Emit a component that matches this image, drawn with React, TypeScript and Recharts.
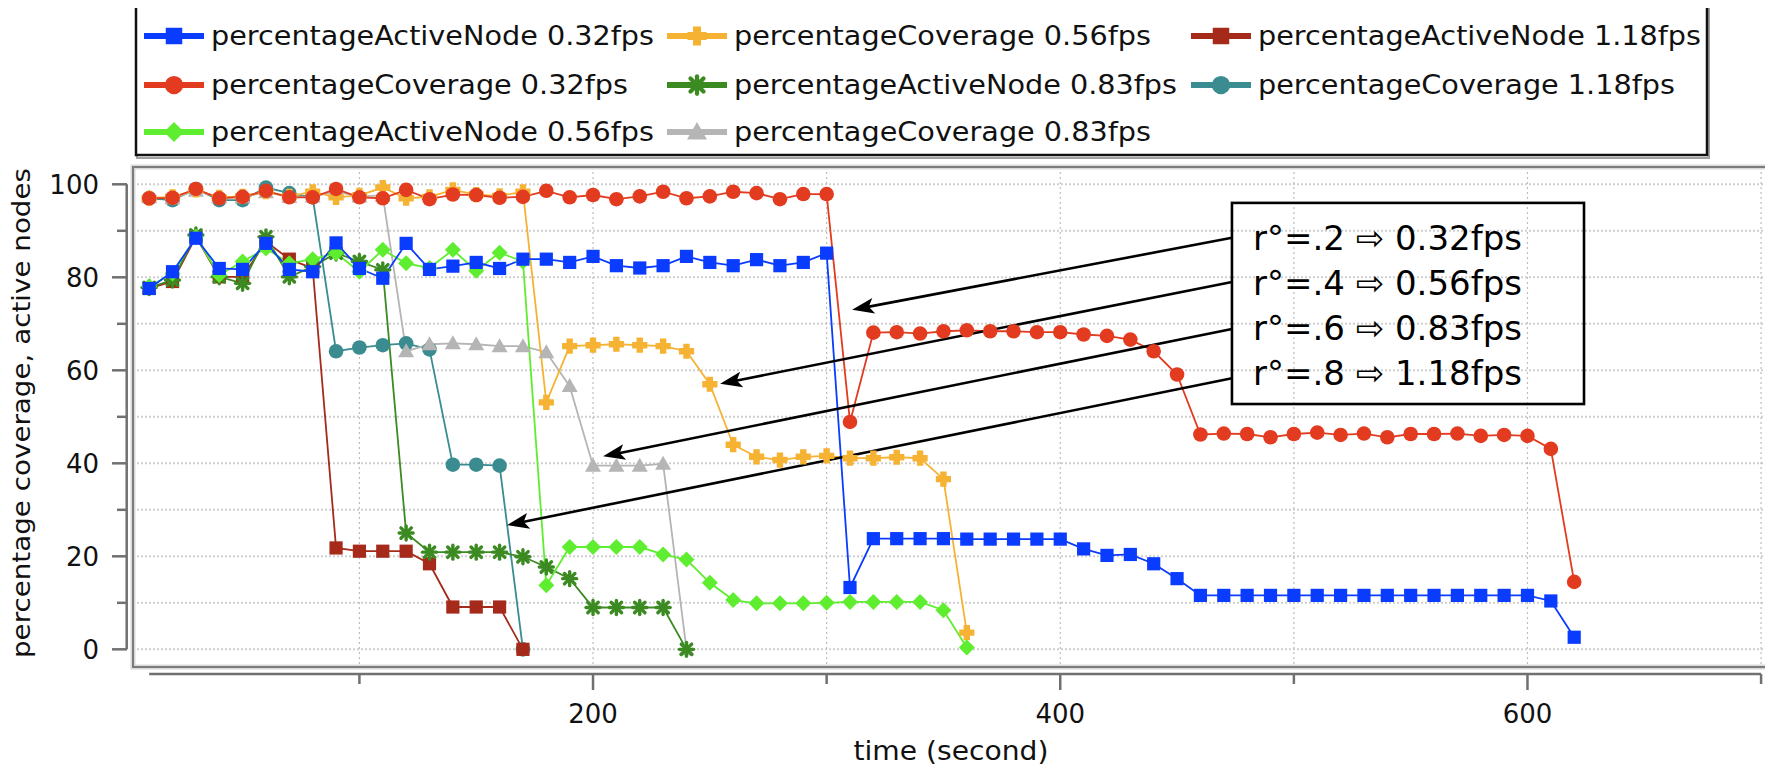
import React from 'react';
import { LineChart, Line, XAxis, YAxis, CartesianGrid, ReferenceLine, ReferenceArea } from 'recharts';

// sample times (seconds)
const times = [
  10, 20, 30, 40, 50, 60, 70, 80, 90, 100, 110, 120, 130, 140, 150, 160, 170, 180, 190, 200,
  210, 220, 230, 240, 250, 260, 270, 280, 290, 300, 310, 320, 330, 340, 350, 360, 370, 380, 390, 400,
  410, 420, 430, 440, 450, 460, 470, 480, 490, 500, 510, 520, 530, 540, 550, 560, 570, 580, 590, 600,
  610, 620,
];

const active032 = [
  77.6, 81.2, 88.4, 81.9, 81.7, 87.3, 81.7, 81.2, 87.4, 81.9, 79.8, 87.3, 81.7, 82.4, 83.2, 81.9, 83.9, 83.9, 83.2, 84.5,
  82.5, 82.0, 82.5, 84.5, 83.2, 82.5, 83.8, 82.5, 83.2, 85.2, 13.3, 23.8, 23.8, 23.8, 23.8, 23.7, 23.7, 23.7, 23.7, 23.7,
  21.6, 20.2, 20.4, 18.4, 15.2, 11.6, 11.6, 11.6, 11.6, 11.6, 11.6, 11.6, 11.6, 11.6, 11.6, 11.6, 11.6, 11.6, 11.6, 11.6,
  10.4, 2.6,
];
const coverage032 = [
  97.0, 97.1, 99.0, 97.0, 97.3, 98.6, 97.2, 97.2, 99.0, 97.2, 97.0, 98.8, 96.8, 97.8, 97.7, 97.1, 97.3, 98.6, 97.2, 97.7,
  96.8, 97.4, 98.4, 97.0, 97.4, 98.4, 98.1, 96.8, 97.9, 97.9, 48.9, 68.1, 68.2, 67.9, 68.4, 68.6, 68.4, 68.4, 68.2, 68.2,
  67.7, 67.4, 66.6, 64.1, 59.1, 46.2, 46.4, 46.3, 45.6, 46.3, 46.6, 46.1, 46.4, 45.6, 46.3, 46.3, 46.4, 45.9, 46.1, 45.9,
  43.1, 14.5,
];
const active056 = [
  78.0, 80.8, 88.7, 80.5, 83.4, 86.2, 83.0, 83.9, 85.2, 81.2, 85.9, 83.0, 82.0, 85.9, 81.4, 85.3, 83.4, 13.8, 22.0, 22.0,
  22.0, 22.0, 20.4, 19.3, 14.3, 10.6, 9.9, 9.9, 9.9, 10.0, 10.2, 10.2, 10.2, 10.2, 8.4, 0.4,
];
const coverage056 = [
  97.0, 97.3, 98.8, 97.2, 97.4, 98.4, 97.4, 98.4, 97.2, 97.6, 99.3, 97.0, 97.3, 98.8, 97.8, 97.5, 98.4, 53.1, 65.2, 65.4,
  65.6, 65.4, 65.2, 64.1, 57.0, 44.0, 41.4, 40.7, 41.4, 41.6, 41.1, 41.1, 41.3, 41.1, 36.6, 3.6,
];
const active083 = [
  77.8, 79.4, 89.1, 80.1, 78.7, 88.7, 80.1, 82.3, 85.2, 83.4, 81.6, 25.0, 20.9, 20.9, 20.9, 20.9, 19.9, 17.7, 15.2, 9.0,
  9.0, 9.0, 9.0, 0,
];
const coverage083 = [
  97.2, 97.0, 98.6, 97.2, 97.2, 98.3, 97.3, 97.4, 98.4, 97.4, 97.6, 64.1, 65.6, 65.8, 65.6, 65.2, 65.2, 63.9, 56.6, 39.5,
  39.5, 39.5, 39.9, 0,
];
const active118 = [
  77.6, 79.1, 88.7, 80.1, 80.1, 87.7, 83.9, 81.9, 21.8, 21.1, 21.1, 21.1, 18.4, 9.1, 9.1, 9.1, 0,
];
const coverage118 = [
  97.0, 96.6, 99.0, 96.6, 96.6, 99.3, 98.1, 97.2, 64.1, 64.9, 65.4, 65.8, 64.5, 39.7, 39.7, 39.5, 0,
];

const xTicks = [100, 200, 300, 400, 500, 600, 700];
const xLabels = [200, 400, 600];
const yTicks = [0, 10, 20, 30, 40, 50, 60, 70, 80, 90, 100];
const yLabels = [0, 20, 40, 60, 80, 100];

const annotationLines = ['r°=.2 ⇨ 0.32fps', 'r°=.4 ⇨ 0.56fps', 'r°=.6 ⇨ 0.83fps', 'r°=.8 ⇨ 1.18fps'];
// arrows in data units: [fromT, fromV, toT, toV]
const annotationArrows = [
  [473.5, 88.5, 310.9, 73.0],
  [473.5, 79.0, 254.4, 57.1],
  [473.5, 68.9, 204.3, 41.5],
  [473.5, 58.3, 163.2, 26.7],
];
const annotationBox = { x1: 473.5, x2: 624.2, y1: 52.75, y2: 96.0 };

type Shape = 'square' | 'circle' | 'plus' | 'star' | 'diamond' | 'triangle';

const series: { key: string; name: string; color: string; shape: Shape; values: number[] }[] = [
  { key: 'a032', name: 'percentageActiveNode 0.32fps', color: '#0a3cff', shape: 'square', values: active032 },
  { key: 'c032', name: 'percentageCoverage 0.32fps', color: '#e23b1f', shape: 'circle', values: coverage032 },
  { key: 'a056', name: 'percentageActiveNode 0.56fps', color: '#5fee2f', shape: 'diamond', values: active056 },
  { key: 'c056', name: 'percentageCoverage 0.56fps', color: '#f6b232', shape: 'plus', values: coverage056 },
  { key: 'a083', name: 'percentageActiveNode 0.83fps', color: '#3b8a22', shape: 'star', values: active083 },
  { key: 'c083', name: 'percentageCoverage 0.83fps', color: '#b5b5b5', shape: 'triangle', values: coverage083 },
  { key: 'a118', name: 'percentageActiveNode 1.18fps', color: '#a52a1a', shape: 'square', values: active118 },
  { key: 'c118', name: 'percentageCoverage 1.18fps', color: '#3a8c90', shape: 'circle', values: coverage118 },
];

const rows = times.map((t, i) => {
  const r: Record<string, number | null> = { t };
  series.forEach((s) => {
    r[s.key] = i < s.values.length ? s.values[i] : null;
  });
  return r;
});

// legend placement: [seriesKey, row, col]
const legendOrder: [string, number, number][] = [
  ['a032', 0, 0], ['c056', 0, 1], ['a118', 0, 2],
  ['c032', 1, 0], ['a083', 1, 1], ['c118', 1, 2],
  ['a056', 2, 0], ['c083', 2, 1],
];
const legendRowY = [36, 85, 132];
const legendColX = [144, 667, 1191];

const FONT = '"DejaVu Sans", sans-serif';
const AXIS = '#707070';
const X_DOMAIN: [number, number] = [3.08, 705.1];
const Y_DOMAIN: [number, number] = [-3.8, 103.72];

function Marker({ shape, cx, cy, color, s = 1 }: { shape: Shape; cx: number; cy: number; color: string; s?: number }) {
  if (shape === 'square') {
    const h = 6.6 * s;
    return <rect x={cx - h} y={cy - h} width={2 * h} height={2 * h} fill={color} />;
  }
  if (shape === 'circle') return <circle cx={cx} cy={cy} r={7.3 * s} fill={color} />;
  if (shape === 'diamond') {
    const d = 8 * s;
    return <polygon points={`${cx},${cy - d} ${cx + d},${cy} ${cx},${cy + d} ${cx - d},${cy}`} fill={color} />;
  }
  if (shape === 'triangle') {
    const d = 8 * s;
    return <polygon points={`${cx},${cy - d} ${cx + d},${cy + 0.75 * d} ${cx - d},${cy + 0.75 * d}`} fill={color} />;
  }
  if (shape === 'plus') {
    const a = 7.6 * s;
    const w = 3.2 * s;
    const d = `M${cx - w},${cy - a}H${cx + w}V${cy - w}H${cx + a}V${cy + w}H${cx + w}V${cy + a}H${cx - w}V${cy + w}H${cx - a}V${cy - w}H${cx - w}Z`;
    return <path d={d} fill={color} />;
  }
  // star / asterisk
  const a = 7 * s;
  const b = 5.2 * s;
  return (
    <g stroke={color} strokeWidth={3.4 * s} strokeLinecap="round">
      <line x1={cx - a} y1={cy} x2={cx + a} y2={cy} />
      <line x1={cx} y1={cy - a} x2={cx} y2={cy + a} />
      <line x1={cx - b} y1={cy - b} x2={cx + b} y2={cy + b} />
      <line x1={cx - b} y1={cy + b} x2={cx + b} y2={cy - b} />
    </g>
  );
}

const makeDot = (shape: Shape, color: string) => (p: any) => {
  const k = `dot-${p.index}`;
  if (p.cx == null || p.cy == null || p.value == null) return <g key={k} />;
  return (
    <g key={k}>
      <Marker shape={shape} cx={p.cx} cy={p.cy} color={color} />
    </g>
  );
};

const XTick = (p: any) => {
  const v = p.payload.value;
  const major = xLabels.includes(v);
  return (
    <g>
      <line x1={p.x} y1={674} x2={p.x} y2={major ? 690 : 684} stroke={AXIS} strokeWidth={2.5} />
      {major && (
        <text x={p.x} y={723} textAnchor="middle" fontSize={26} fontFamily={FONT} fill="#111">
          {v}
        </text>
      )}
    </g>
  );
};

const YTick = (p: any) => {
  const v = p.payload.value;
  const major = yLabels.includes(v);
  return (
    <g>
      <line x1={major ? 112 : 117} y1={p.y} x2={127} y2={p.y} stroke={AXIS} strokeWidth={2.5} />
      {major && (
        <text x={99} y={p.y + 9.5} textAnchor="end" fontSize={26} fontFamily={FONT} fill="#111">
          {v}
        </text>
      )}
    </g>
  );
};

const PlotBorder = (p: any) => (
  <g>
    <rect x={p.x} y={p.y} width={p.width} height={p.height} fill="none" stroke="#d8d8d8" strokeWidth={5} />
    <rect x={p.x} y={p.y} width={p.width} height={p.height} fill="none" stroke="#7c7c7c" strokeWidth={2} />
  </g>
);

const Arrow = (p: any) => {
  const { x1, y1, x2, y2 } = p;
  const dx = x2 - x1;
  const dy = y2 - y1;
  const len = Math.sqrt(dx * dx + dy * dy) || 1;
  const ux = dx / len;
  const uy = dy / len;
  const L = 22;
  const W = 8;
  const bx = x2 - ux * L;
  const by = y2 - uy * L;
  const pts = `${x2},${y2} ${bx - uy * W},${by + ux * W} ${bx + ux * 5},${by + uy * 5} ${bx + uy * W},${by - ux * W}`;
  return (
    <g>
      <line x1={x1} y1={y1} x2={bx + ux * 6} y2={by + uy * 6} stroke="#000" strokeWidth={2.6} />
      <polygon points={pts} fill="#000" />
    </g>
  );
};

const AnnotationBox = (p: any) => (
  <g>
    <rect x={p.x} y={p.y} width={p.width} height={p.height} fill="none" stroke="#000" strokeWidth={2.6} />
    {annotationLines.map((txt, i) => (
      <text key={txt} x={p.x + 21} y={p.y + 47 + i * 45} fontSize={34} fontFamily={FONT} fill="#000">
        {txt}
      </text>
    ))}
  </g>
);

const LegendBox = () => (
  <svg width={1773} height={165} style={{ position: 'absolute', left: 0, top: 0 }}>
    <rect x={137} y={9} width={1572} height={149} fill="none" stroke="#a0a0a0" strokeWidth={2} />
    <rect x={136} y={6} width={1571} height={149} fill="#fff" stroke="#111" strokeWidth={2.5} />
    {legendOrder.map(([key, row, col]) => {
      const s = series.find((d) => d.key === key)!;
      const x = legendColX[col];
      const y = legendRowY[row];
      const isActive = s.name.includes('ActiveNode');
      return (
        <g key={key}>
          <line x1={x} y1={y} x2={x + 60} y2={y} stroke={s.color} strokeWidth={6} />
          <Marker shape={s.shape} cx={x + 30} cy={y} color={s.color} s={1.25} />
          <text
            x={x + 67}
            y={y + 9}
            fontSize={26}
            fontFamily={FONT}
            fill="#111"
            textLength={isActive ? 443 : 417}
            lengthAdjust="spacingAndGlyphs"
          >
            {s.name}
          </text>
        </g>
      );
    })}
  </svg>
);

export default function App() {
  const drawOrder = [...series].reverse();
  return (
    <div style={{ position: 'relative', width: 1773, height: 773, margin: -8, background: '#fff', overflow: 'hidden' }}>
      <LineChart width={1773} height={773} data={rows} margin={{ top: 167, right: 0, bottom: 0, left: 0 }}>
        <CartesianGrid horizontal vertical={false} stroke="#cfcfcf" strokeWidth={2} strokeDasharray="2 2" />
        <CartesianGrid horizontal={false} vertical stroke="#bdbdbd" strokeWidth={1.2} strokeDasharray="2 3" />
        <XAxis
          dataKey="t"
          type="number"
          domain={X_DOMAIN}
          allowDataOverflow
          ticks={xTicks}
          interval={0}
          height={106}
          axisLine={false}
          tickLine={false}
          tick={<XTick />}
        />
        <YAxis
          type="number"
          domain={Y_DOMAIN}
          allowDataOverflow
          ticks={yTicks}
          interval={0}
          width={133}
          axisLine={false}
          tickLine={false}
          tick={<YTick />}
        />
        <ReferenceArea
          x1={X_DOMAIN[0]}
          x2={X_DOMAIN[1]}
          y1={Y_DOMAIN[0]}
          y2={Y_DOMAIN[1]}
          ifOverflow="visible"
          shape={<PlotBorder />}
        />
        <ReferenceLine
          segment={[{ x: 0.39, y: 0 }, { x: 0.39, y: 100 }]}
          ifOverflow="visible"
          stroke={AXIS}
          strokeWidth={2.5}
        />
        <ReferenceLine
          segment={[{ x: 10, y: -5.31 }, { x: 700, y: -5.31 }]}
          ifOverflow="visible"
          stroke={AXIS}
          strokeWidth={2.5}
        />
        {drawOrder.map((s) => (
          <Line
            key={s.key}
            dataKey={s.key}
            name={s.name}
            type="linear"
            stroke={s.color}
            strokeWidth={1.8}
            dot={makeDot(s.shape, s.color)}
            activeDot={false}
            isAnimationActive={false}
          />
        ))}
        {annotationArrows.map((a, i) => (
          <ReferenceLine
            key={`arrow-${i}`}
            segment={[{ x: a[0], y: a[1] }, { x: a[2], y: a[3] }]}
            ifOverflow="visible"
            shape={(p: any) => <Arrow {...p} />}
          />
        ))}
        <ReferenceArea
          x1={annotationBox.x1}
          x2={annotationBox.x2}
          y1={annotationBox.y1}
          y2={annotationBox.y2}
          ifOverflow="visible"
          shape={<AnnotationBox />}
        />
      </LineChart>
      <svg width={60} height={560} style={{ position: 'absolute', left: 0, top: 140 }}>
        <text
          transform="translate(30,273) rotate(-90)"
          textAnchor="middle"
          fontSize={25}
          fontFamily={FONT}
          fill="#111"
          textLength={490}
          lengthAdjust="spacingAndGlyphs"
        >
          percentage coverage, active nodes
        </text>
      </svg>
      <svg width={400} height={60} style={{ position: 'absolute', left: 751, top: 708 }}>
        <text x={200} y={52} textAnchor="middle" fontSize={26} fontFamily={FONT} fill="#111" textLength={195} lengthAdjust="spacingAndGlyphs">
          time (second)
        </text>
      </svg>
      <LegendBox />
    </div>
  );
}
